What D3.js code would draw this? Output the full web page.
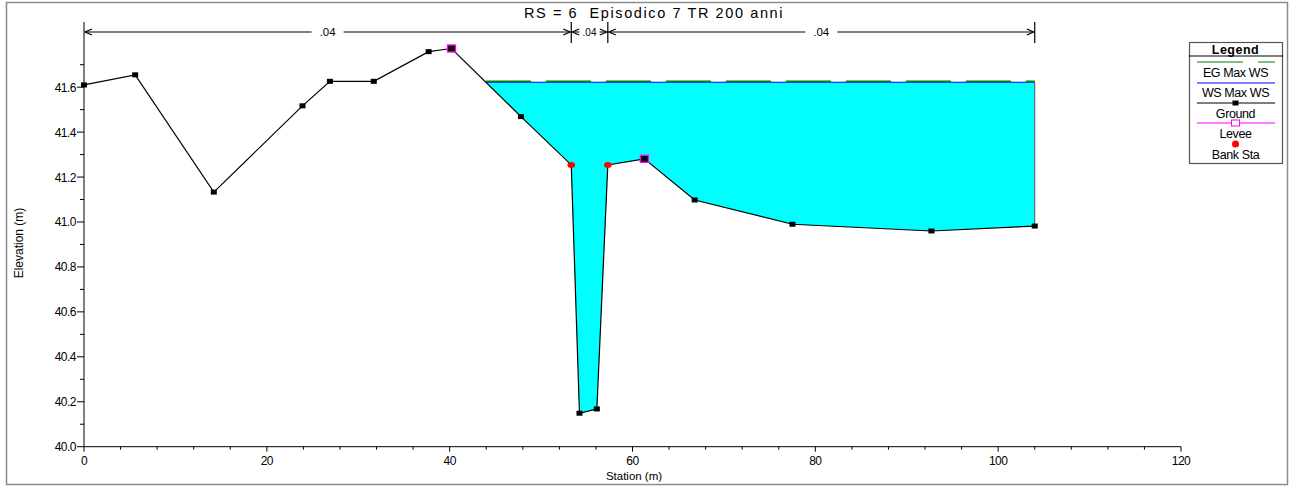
<!DOCTYPE html>
<html>
<head>
<meta charset="utf-8">
<script src="https://cdn.jsdelivr.net/npm/d3@7"></script>
<style>
  body { margin: 0; background: #fff; }
  svg { display: block; font-family: "Liberation Sans", Arial, sans-serif; }
</style>
</head>
<body>
<div id="chart"></div>
<script>
// cross section ground points
const station = [0, 5.6, 14.2, 23.9, 26.9, 31.7, 37.7, 40.2, 47.8, 53.3, 54.2, 56.1, 57.3, 61.3, 66.8, 77.5, 92.7, 104.0];
const elevation = [41.61, 41.655, 41.133, 41.517, 41.626, 41.626, 41.758, 41.772, 41.469, 41.254, 40.149, 40.168, 41.254, 41.281, 41.098, 40.99, 40.96, 40.982];
const leveeIdx = [7, 13];
const bankIdx = [9, 12];
const wsElev = 41.622;
const egElev = 41.623;
const manningBreaks = [0, 53.3, 57.3, 104.0];
const manningN = [".04", ".04", ".04"];
const xTicks = [0, 20, 40, 60, 80, 100, 120];
const yTicks = [40.0, 40.2, 40.4, 40.6, 40.8, 41.0, 41.2, 41.4, 41.6];
const legendItems = ["EG Max WS", "WS Max WS", "Ground", "Levee", "Bank Sta"];
const title = "RS = 6  Episodico 7 TR 200 anni";

const W = 1295, H = 486;
const svg = d3.select("#chart").append("svg").attr("width", W).attr("height", H);

// outer frame
svg.append("rect").attr("x", 6.5).attr("y", 2.5).attr("width", 1281).attr("height", 482)
  .attr("fill", "none").attr("stroke", "#8c8c8c").attr("stroke-width", 1.5);

const x = d3.scaleLinear().domain([0, 120]).range([84, 1181]);
const y = d3.scaleLinear().domain([40, 41.89]).range([446.7, 22]);

const pts = station.map((s, i) => [s, elevation[i]]);

// water is held by the left levee: find where ws meets ground right of it
const findCross = (start) => {
  for (let i = start; i < pts.length - 1; i++) {
    const a = pts[i], b = pts[i + 1];
    if (a[1] >= wsElev && b[1] < wsElev) {
      const t = (a[1] - wsElev) / (a[1] - b[1]);
      return [i, a[0] + t * (b[0] - a[0])];
    }
  }
  return [start, pts[start][0]];
};
const [ci, xs] = findCross(leveeIdx[0]);
const xe = station[station.length - 1];
const waterPoly = [[xs, wsElev]].concat(pts.slice(ci + 1)).concat([[xe, wsElev]]);

svg.append("path")
  .datum(waterPoly)
  .attr("fill", "#00ffff")
  .attr("stroke", "none")
  .attr("d", d3.line().x(d => x(d[0])).y(d => y(d[1])));

// right edge of water
svg.append("line")
  .attr("x1", x(xe)).attr("x2", x(xe))
  .attr("y1", y(wsElev)).attr("y2", y(elevation[elevation.length - 1]))
  .attr("stroke", "#555").attr("stroke-width", 1);

// WS line
svg.append("line")
  .attr("x1", x(xs)).attr("x2", x(xe))
  .attr("y1", y(wsElev)).attr("y2", y(wsElev))
  .attr("stroke", "#0000ff").attr("stroke-width", 1);

// EG line
svg.append("line")
  .attr("x1", x(xs)).attr("x2", x(xe))
  .attr("y1", y(egElev) - 0.7).attr("y2", y(egElev) - 0.7)
  .attr("stroke", "#008000").attr("stroke-width", 1.5)
  .attr("stroke-dasharray", "45,15");

// axes
const yAxisG = svg.append("g").attr("transform", `translate(${x(0)},0)`);
yAxisG.append("line").attr("x1", 0).attr("x2", 0).attr("y1", y.range()[1]).attr("y2", y(40))
  .attr("stroke", "#000");
yAxisG.selectAll(".ytk").data(d3.range(0, 18).map(i => 40 + i * 0.1)).join("line")
  .attr("x1", (d, i) => i % 2 == 0 ? -7 : -4).attr("x2", 0)
  .attr("y1", d => y(d)).attr("y2", d => y(d))
  .attr("stroke", "#000");
yAxisG.selectAll(".ylab").data(yTicks).join("text")
  .attr("x", -8).attr("y", d => y(d) + 4.5)
  .attr("text-anchor", "end")
  .attr("font-size", 12)
  .attr("letter-spacing", -0.5)
  .text(d => d.toFixed(1));

const xAxisG = svg.append("g").attr("transform", `translate(0,${y(40)})`);
xAxisG.append("line").attr("x1", x(0)).attr("x2", x(120)).attr("y1", 0).attr("y2", 0).attr("stroke", "#000");
xAxisG.selectAll(".xtk").data(d3.range(0, 121, 4)).join("line")
  .attr("x1", d => x(d)).attr("x2", d => x(d))
  .attr("y1", 0).attr("y2", d => d % 20 == 0 ? 5 : 3)
  .attr("stroke", "#000");
xAxisG.selectAll(".xlab").data(xTicks).join("text")
  .attr("x", d => x(d)).attr("y", 18)
  .attr("text-anchor", "middle")
  .attr("font-size", 12)
  .attr("letter-spacing", -0.5)
  .text(d => d);

svg.append("text").attr("x", 634).attr("y", 480).attr("text-anchor", "middle")
  .attr("font-size", 11.5).attr("letter-spacing", 0).text("Station (m)");
svg.append("text").attr("transform", "translate(23,243) rotate(-90)").attr("text-anchor", "middle")
  .attr("font-size", 12).attr("letter-spacing", 0).text("Elevation (m)");

// title
svg.append("text").attr("x", 654).attr("y", 18).attr("text-anchor", "middle")
  .attr("font-size", 14.5).attr("letter-spacing", 1.6).style("white-space", "pre").text(title);

// manning n markers
const nY = 32;
for (let i = 1; i < manningBreaks.length; i++) {
  const bx = x(manningBreaks[i]);
  svg.append("line").attr("x1", bx).attr("x2", bx).attr("y1", 22).attr("y2", 43)
    .attr("stroke", "#000").attr("stroke-width", 1.2);
}
const arrow = (px, dir) => {
  svg.append("path")
    .attr("d", `M${px - dir * 7},${nY - 3} L${px},${nY} L${px - dir * 7},${nY + 3}`)
    .attr("fill", "none").attr("stroke", "#000").attr("stroke-width", 1.2);
};
manningN.forEach((n, i) => {
  const x0 = x(manningBreaks[i]), x1 = x(manningBreaks[i + 1]);
  const mid = (x0 + x1) / 2;
  const small = x1 - x0 < 60;
  const fs = small ? 10 : 11.5;
  const half = small ? 10 : 16;
  svg.append("line").attr("x1", x0 + 1).attr("x2", mid - half).attr("y1", nY).attr("y2", nY).attr("stroke", "#000");
  svg.append("line").attr("x1", mid + half).attr("x2", x1 - 1).attr("y1", nY).attr("y2", nY).attr("stroke", "#000");
  arrow(x0 + 1, -1);
  arrow(x1 - 1, 1);
  svg.append("text").attr("x", mid).attr("y", nY + 4).attr("text-anchor", "middle")
    .attr("font-size", fs).text(n);
});

// ground line
svg.append("path")
  .datum(pts)
  .attr("fill", "none")
  .attr("stroke", "#000")
  .attr("stroke-width", 1.2)
  .attr("d", d3.line().x(d => x(d[0])).y(d => y(d[1])));

// ground markers
svg.selectAll(".gpt").data(pts.filter((d, i) => !bankIdx.includes(i) && !leveeIdx.includes(i))).join("rect")
  .attr("x", d => x(d[0]) - 3).attr("y", d => y(d[1]) - 2.5)
  .attr("width", 6).attr("height", 5).attr("fill", "#000");

// levee markers
svg.selectAll(".lpt").data(leveeIdx.map(i => pts[i])).join("rect")
  .attr("x", d => x(d[0]) - 4).attr("y", d => y(d[1]) - 3.5)
  .attr("width", 8).attr("height", 7)
  .attr("fill", "#000").attr("stroke", "#ff00ff").attr("stroke-width", 1.3);

// bank stations
svg.selectAll(".bpt").data(bankIdx.map(i => pts[i])).join("ellipse")
  .attr("cx", d => x(d[0])).attr("cy", d => y(d[1]))
  .attr("rx", 3.8).attr("ry", 3).attr("fill", "#ff0000");

// legend
const lg = svg.append("g");
const lx0 = 1189, lx1 = 1282, lcx = (lx0 + lx1) / 2;
lg.append("rect").attr("x", lx0 + 0.5).attr("y", 42.5).attr("width", lx1 - lx0).attr("height", 121)
  .attr("fill", "#fff").attr("stroke", "#555").attr("stroke-width", 1.2);
lg.append("line").attr("x1", lx0).attr("x2", lx1 + 1).attr("y1", 56).attr("y2", 56).attr("stroke", "#000");
lg.append("text").attr("x", lcx).attr("y", 53.5).attr("text-anchor", "middle")
  .attr("font-size", 12.5).attr("font-weight", "bold").attr("letter-spacing", 0.5).text("Legend");

const lineL = 1197, lineR = 1275;
const rowY = [62, 83, 103, 123, 144];
// EG
lg.append("line").attr("x1", lineL).attr("x2", lineR).attr("y1", rowY[0]).attr("y2", rowY[0])
  .attr("stroke", "#008000").attr("stroke-width", 1).attr("stroke-dasharray", "46,15");
// WS
lg.append("line").attr("x1", lineL).attr("x2", lineR).attr("y1", rowY[1]).attr("y2", rowY[1])
  .attr("stroke", "#0000ff").attr("stroke-width", 1);
// Ground
lg.append("line").attr("x1", lineL).attr("x2", lineR).attr("y1", rowY[2]).attr("y2", rowY[2])
  .attr("stroke", "#000").attr("stroke-width", 1);
lg.append("rect").attr("x", lcx - 3).attr("y", rowY[2] - 2.5).attr("width", 6).attr("height", 5).attr("fill", "#000");
// Levee
lg.append("line").attr("x1", lineL).attr("x2", lineR).attr("y1", rowY[3]).attr("y2", rowY[3])
  .attr("stroke", "#ff00ff").attr("stroke-width", 1);
lg.append("rect").attr("x", lcx - 4).attr("y", rowY[3] - 3).attr("width", 8).attr("height", 6)
  .attr("fill", "#fff").attr("stroke", "#ff00ff").attr("stroke-width", 1);
// Bank
lg.append("circle").attr("cx", lcx).attr("cy", rowY[4]).attr("r", 3.5).attr("fill", "#ff0000");

const textY = [76.5, 96.5, 117.5, 137.5, 158.5];
lg.selectAll(".lt").data(legendItems).join("text")
  .attr("x", lcx).attr("y", (d, i) => textY[i])
  .attr("text-anchor", "middle")
  .attr("font-size", 12.5)
  .attr("letter-spacing", -0.4)
  .text(d => d);
</script>
</body>
</html>
